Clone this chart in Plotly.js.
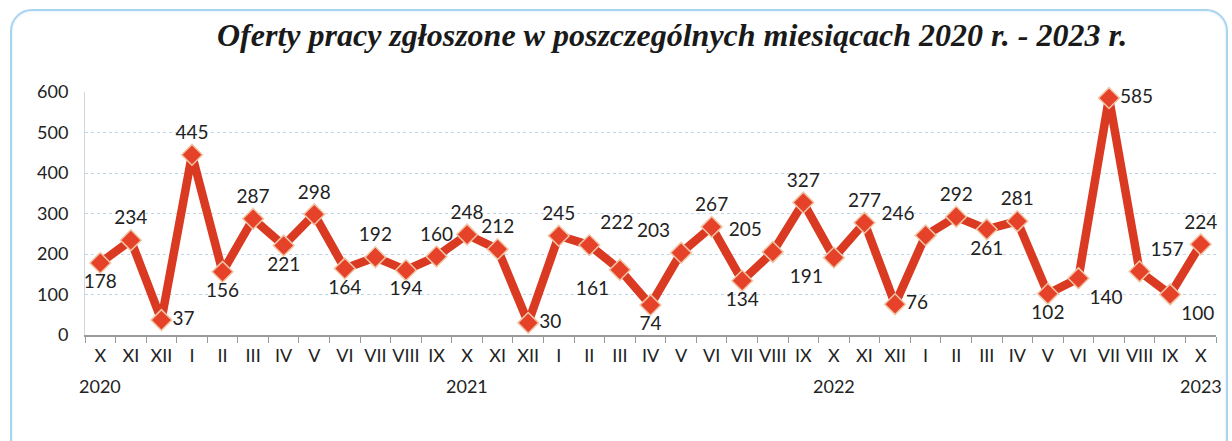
<!DOCTYPE html>
<html>
<head>
<meta charset="utf-8">
<script src="https://cdn.plot.ly/plotly-3.0.1.min.js"></script>
<style>
  html, body { margin:0; padding:0; background:#ffffff; }
  #wrap { position:relative; width:1232px; height:441px; overflow:hidden; }
  #frame { position:absolute; left:10px; top:9px; width:1214px; height:450px;
           border:2px solid #a9d3ee; border-radius:22px; box-shadow: inset 0 0 3px #d5ebf8; }
  #chart { position:absolute; left:0; top:0; width:1232px; height:441px; }
</style>
</head>
<body>
<div id="wrap">
  <div id="frame"></div>
  <div id="chart"></div>
</div>
<script>
// Months (Roman numerals) and year markers
const months = ["X","XI","XII","I","II","III","IV","V","VI","VII","VIII","IX","X","XI","XII",
                "I","II","III","IV","V","VI","VII","VIII","IX","X","XI","XII",
                "I","II","III","IV","V","VI","VII","VIII","IX","X"];
const years  = ["2020","","","","","","","","","","","","2021","","",
                "","","","","","","","","","2022","","",
                "","","","","","","","","","2023"];
// Plotted values
const values = [178,234,37,445,156,287,221,298,164,192,160,194,248,212,30,
                245,222,161,74,203,267,134,205,327,191,277,76,
                246,292,261,281,102,140,585,157,100,224];
// Data labels as printed on the chart
const labels = ["178","234","37","445","156","287","221","298","164","192","194","160","248","212","30",
                "245","222","161","74","203","267","134","205","327","191","277","76",
                "246","292","261","281","102","140","585","157","100","224"];
const labelPos = ["bottom center","top center","middle right","top center","bottom center","top center",
  "bottom center","top center","bottom center","top center","bottom center","top center","top center",
  "top center","middle right","top center","top right","bottom left","bottom center","top left",
  "top center","bottom center","top left","top center","bottom left","top center","middle right",
  "top left","top center","bottom center","top center","bottom center","bottom right","middle right",
  "top right","bottom right","top center"];

const keys = months.map((m, i) => i + "_" + m);
const FONT = "Lato, 'Open Sans', sans-serif";

const trace = {
  type: "scatter",
  mode: "lines+markers+text",
  x: keys,
  y: values,
  text: labels,
  textposition: labelPos,
  textfont: { family: FONT, size: 19, color: "#222222" },
  cliponaxis: false,
  line: { color: "#da3a21", width: 8.5 },
  marker: { symbol: "diamond", size: 16, color: "#e6422a", line: { color: "#efc6a6", width: 1.5 } },
  hoverinfo: "x+y"
};

const yearAnnotations = years.map((yr, i) => ({ yr, i })).filter(o => o.yr).map(o => ({
  x: keys[o.i], xref: "x",
  y: 0, yref: "paper",
  yanchor: "top", xanchor: "center",
  yshift: -38,
  text: o.yr,
  showarrow: false,
  font: { family: FONT, size: 18, color: "#222222" }
}));

const layout = {
  width: 1232, height: 441,
  margin: { l: 85, r: 16, t: 92, b: 106 },
  paper_bgcolor: "rgba(0,0,0,0)",
  plot_bgcolor: "rgba(0,0,0,0)",
  showlegend: false,
  title: {
    text: "<b><i>Oferty pracy zgłoszone w poszczególnych miesiącach 2020 r. - 2023 r.</i></b>",
    font: { family: "'Liberation Serif', 'DejaVu Serif', serif", size: 32, color: "#1a1a1a" },
    xref: "container", yref: "container",
    x: 0.5455, xanchor: "center", y: 0.92, yanchor: "middle"
  },
  xaxis: {
    type: "category",
    range: [-0.5, months.length - 0.5],
    autorange: false,
    tickmode: "array",
    tickvals: keys,
    ticktext: months,
    tickson: "boundaries",
    ticks: "outside",
    ticklen: 6,
    tickcolor: "#9a9a9a",
    ticklabelstandoff: 4,
    showgrid: false,
    showline: true,
    linecolor: "#9a9a9a",
    linewidth: 1.5,
    tickangle: 0,
    tickfont: { family: FONT, size: 18, color: "#222222" },
    fixedrange: true
  },
  yaxis: {
    range: [0, 600],
    dtick: 100,
    tick0: 0,
    showgrid: true,
    gridcolor: "#bfd5e8",
    griddash: "dot",
    gridwidth: 1,
    showline: true,
    linecolor: "#cfd6dc",
    zeroline: false,
    ticks: "",
    ticklabelstandoff: 12,
    tickfont: { family: FONT, size: 18, color: "#222222" },
    fixedrange: true
  },
  annotations: yearAnnotations
};

Plotly.newPlot("chart", [trace], layout, { displayModeBar: false, staticPlot: true });
</script>
</body>
</html>
